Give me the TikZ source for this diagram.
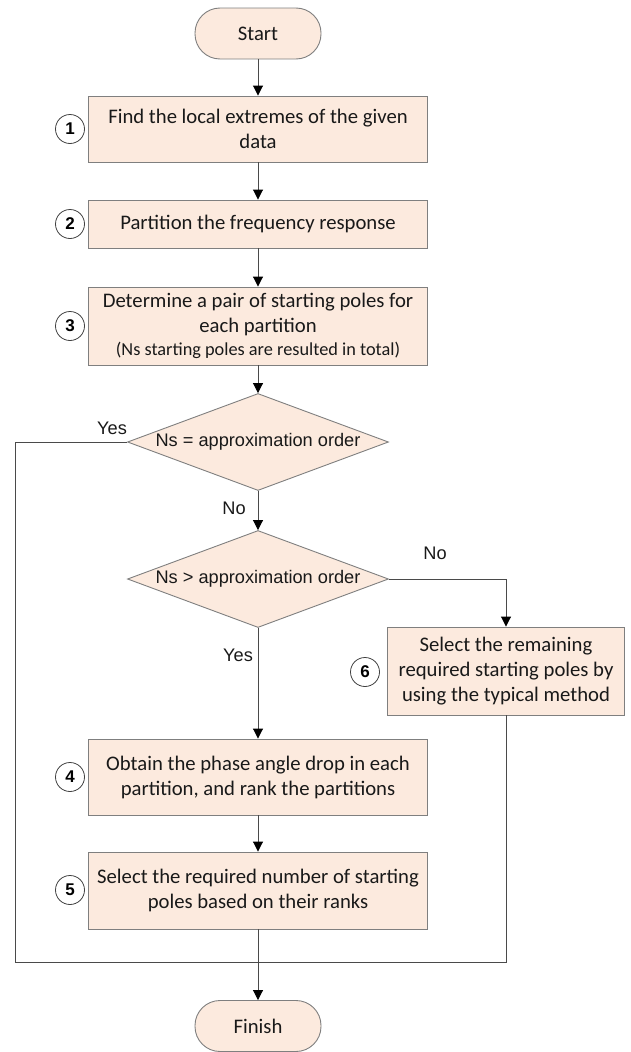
\documentclass[tikz,border=0pt]{standalone}
\usepackage{fontspec}
\setmainfont{Carlito}
\newfontfamily\arialf{Liberation Sans}
\usepackage{tikz}
\usetikzlibrary{arrows.meta, shapes.geometric}
\definecolor{peach}{HTML}{FCEADE}
\definecolor{edgegray}{HTML}{7F7F7F}
\definecolor{linegray}{HTML}{4A4A4A}

\begin{document}
\begin{tikzpicture}[x=1pt, y=-1pt,
    box/.style={draw=edgegray, fill=peach, line width=0.9pt, minimum width=339pt,
        align=center, inner sep=0pt, text=black!90, font=\fontsize{20.7}{25}\selectfont},
    term/.style={box, rounded corners=25pt, minimum width=126pt, minimum height=51pt},
    decision/.style={diamond, draw=edgegray, fill=peach, line width=0.9pt, aspect=2.69,
        minimum width=261pt, minimum height=97pt, inner sep=0pt, text=black!90,
        font=\arialf\fontsize{18.2}{22}\selectfont},
    num/.style={circle, draw=black!75, line width=0.8pt, minimum size=29pt, inner sep=0pt,
        font=\arialf\bfseries\fontsize{17}{17}\selectfont},
    lbl/.style={text=black!90, font=\arialf\fontsize{18.2}{22}\selectfont},
    flow/.style={draw=linegray, line width=0.9pt, -{Triangle[length=10pt, width=10pt, color=black]}},
    line/.style={draw=linegray, line width=0.9pt}]
        \useasboundingbox (0,0) rectangle (630,1052);
        % main column
        \node[term] (start) at (258,33.5) {Start};
        \node[box, minimum height=66pt] (s1) at (258,129) {Find the local extremes of the given\\data};
        \node[box, minimum height=48pt] (s2) at (258,224) {Partition the frequency response};
        \node[box, minimum height=78pt] (s3) at (258,326) {Determine a pair of starting poles for\\each partition\\[-2pt]
            {\fontsize{18.3}{22}\selectfont (Ns starting poles are resulted in total)}};
        \node[decision] (d1) at (258,442) {Ns = approximation order};
        \node[decision] (d2) at (258,579) {Ns > approximation order};
        \node[box, minimum height=76pt] (s4) at (258,777) {Obtain the phase angle drop in each\\partition, and rank the partitions};
        \node[box, minimum height=77pt] (s5) at (258,890.5) {Select the required number of starting\\poles based on their ranks};
        \node[term] (finish) at (258,1026) {Finish};
        % side branch
        \node[box, minimum width=237pt, minimum height=88pt] (s6) at (506,671) {Select the remaining\\required starting poles by\\using the typical method};
        % step numbers
        \foreach \n/\y in {1/129, 2/224, 3/326, 4/777, 5/890}
            \node[num] (n\n) at (70,\y) {\n};
        \node[num] (n6) at (365,672) {6};
        % branch labels
        \node[lbl] (yes1) at (112,428) {Yes};
        \node[lbl] (no1) at (234,508) {No};
        \node[lbl] (no2) at (435,553) {No};
        \node[lbl] (yes2) at (238,655) {Yes};
        % arrows
        \draw[flow] (start) -- (s1);
        \draw[flow] (s1) -- (s2);
        \draw[flow] (s2) -- (s3);
        \draw[flow] (s3) -- (d1);
        \draw[flow] (d1) -- (d2);
        \draw[flow] (d2) -- (s4);
        \draw[flow] (s4) -- (s5);
        \draw[flow] (s5) -- (finish);
        \draw[flow] (d2.east) -| (s6.north);
        % loop back to finish
        \coordinate (lcorner) at (15,962);
        \coordinate (rcorner) at (s6.south |- lcorner);
        \draw[line] (d1.west) -| (lcorner) -- (rcorner) -- (s6.south);
\end{tikzpicture}
\end{document}
